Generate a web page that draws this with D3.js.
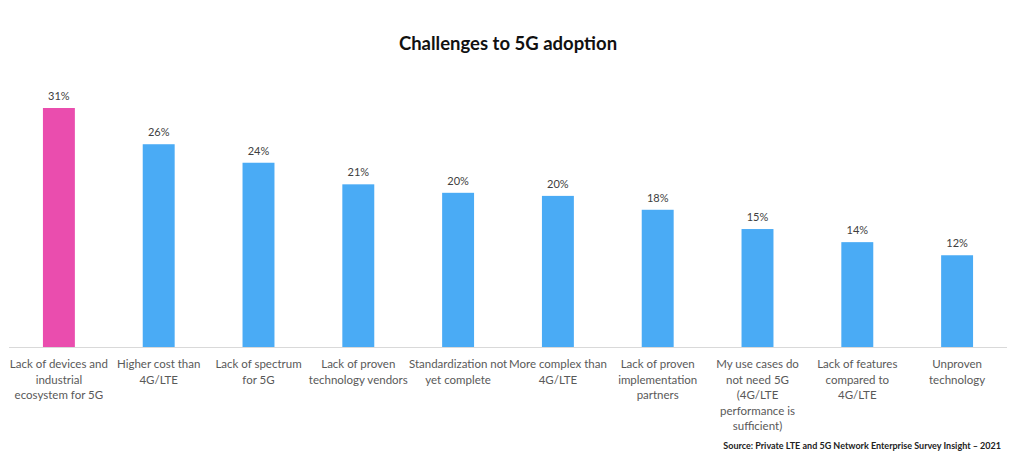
<!DOCTYPE html>
<html>
<head>
<meta charset="utf-8">
<script src="https://cdn.jsdelivr.net/npm/d3@7"></script>
<style>
  html, body { margin: 0; padding: 0; background: #ffffff; }
  svg { display: block; font-family: Lato, "Open Sans", sans-serif; }
</style>
</head>
<body>
<svg id="chart"></svg>
<script>
// categories, each split into the lines shown under the bars
const categories = [
  ["Lack of devices and", "industrial", "ecosystem for 5G"],
  ["Higher cost than", "4G/LTE"],
  ["Lack of spectrum", "for 5G"],
  ["Lack of proven", "technology vendors"],
  ["Standardization not", "yet complete"],
  ["More complex than", "4G/LTE"],
  ["Lack of proven", "implementation", "partners"],
  ["My use cases do", "not need 5G", "(4G/LTE", "performance is", "sufficient)"],
  ["Lack of features", "compared to", "4G/LTE"],
  ["Unproven", "technology"]
]
// share of respondents (%)
const values = [31, 26.3, 23.9, 21.1, 20.0, 19.6, 17.8, 15.3, 13.6, 11.9]
const highlighted = [true, false, false, false, false, false, false, false, false, false]

const width = 1024
const height = 454

const svg = d3.select("#chart").attr("width", width).attr("height", height)

const data = values.map((v, i) => ({ i, value: v, lines: categories[i], hi: highlighted[i] }))

// x band scale over the axis line, y linear from the baseline
const x = d3.scaleBand()
  .domain(data.map((d) => d.i))
  .range([9, 1007])
  .paddingInner(0.68)
  .paddingOuter(0.34)

const y = d3.scaleLinear().domain([0, 31]).range([347, 108])

// Title
svg.append("text")
  .attr("x", 508)
  .attr("y", 50)
  .attr("text-anchor", "middle")
  .style("font-size", "18.5px")
  .style("font-weight", "bold")
  .style("fill", "#111111")
  .text("Challenges to 5G adoption")

// Bars
svg.selectAll(".bar")
  .data(data)
  .enter()
  .append("rect")
  .attr("class", "bar")
  .attr("x", (d) => x(d.i))
  .attr("width", x.bandwidth())
  .attr("y", (d) => y(d.value))
  .attr("height", (d) => y(0) - y(d.value))
  .style("fill", (d) => (d.hi ? "#ea4dae" : "#4aabf5"))

// Value labels
svg.selectAll(".value")
  .data(data)
  .enter()
  .append("text")
  .attr("class", "value")
  .attr("x", (d) => x(d.i) + x.bandwidth() / 2)
  .attr("y", (d) => y(d.value) - 8)
  .attr("text-anchor", "middle")
  .style("font-size", "11px")
  .style("fill", "#404040")
  .text((d) => d3.format(".0f")(d.value) + "%")

// Baseline
svg.append("line")
  .attr("x1", 9)
  .attr("x2", 1007)
  .attr("y1", y(0) + 0.5)
  .attr("y2", y(0) + 0.5)
  .style("stroke", "#d9d9d9")
  .style("stroke-width", 1)

// Category labels
const labels = svg.selectAll(".cat")
  .data(data)
  .enter()
  .append("text")
  .attr("class", "cat")
  .attr("text-anchor", "middle")
  .style("font-size", "11.5px")
  .style("fill", "#595959")

labels.each(function (d) {
  const t = d3.select(this)
  d.lines.forEach((line, k) => {
    t.append("tspan")
      .attr("x", x(d.i) + x.bandwidth() / 2)
      .attr("y", 368 + k * 15.6)
      .text(line)
  })
})

// Source note
svg.append("text")
  .attr("x", 1001)
  .attr("y", 449)
  .attr("text-anchor", "end")
  .style("font-size", "9px")
  .style("font-weight", "bold")
  .style("fill", "#222222")
  .text("Source: Private LTE and 5G Network Enterprise Survey Insight \u2013 2021")
</script>
</body>
</html>
